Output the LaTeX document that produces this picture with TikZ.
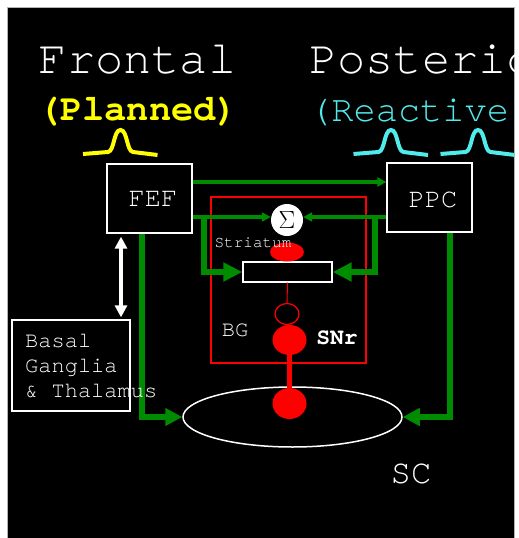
\documentclass[tikz,border=0pt]{standalone}
\usepackage{fontspec}
\newfontfamily\cour{TeX Gyre Cursor}
\usetikzlibrary{arrows.meta,shapes.geometric}
\definecolor{gr}{RGB}{0,140,0}
\definecolor{cy}{RGB}{80,235,235}
\definecolor{yl}{RGB}{255,255,0}
\begin{document}
\begin{tikzpicture}[x=1pt,y=-1pt,
  box/.style={draw=white,line width=1.3pt,fill=black,inner sep=0pt},
  txt/.style={text=white,inner sep=0pt},
  gthin/.style={draw=gr,line width=4pt,-{Triangle[length=9pt,width=9pt]}},
  gthick/.style={draw=gr,line width=6pt,-{Triangle[length=19pt,width=18pt]}},
  gsc/.style={draw=gr,line width=6pt,-{Triangle[length=17pt,width=17pt]}},
  bump/.pic={\draw (-37.5,1) -- (-12.5,-1) .. controls (-6,-2) and (-7,-23) .. (0,-23) .. controls (7,-23) and (6,-2) .. (12.5,-1) -- (37,2);}
]
\useasboundingbox (0,0) rectangle (519,538);
\fill[white] (0,0) rectangle (519,538);
\fill[black] (7,7) rectangle (514,538);
\draw[gray!60, line width=0.8pt] (7,538) -- (7,7) -- (514,7) -- (514,538);
\begin{scope}
\clip (7,7) rectangle (514,538);
% titles
\node[txt,anchor=base,font={\cour\fontsize{47}{47}\selectfont}] (frontal) at (137.5,73) {Frontal};
\node[txt,anchor=base west,font={\cour\fontsize{47}{47}\selectfont}] (posterior) at (309,73) {Posterior};
\node[anchor=base,text=yl,inner sep=0pt,font={\cour\bfseries\fontsize{37}{37}\selectfont}] (planned) at (138,120) {(Planned)};
\node[anchor=base west,text=cy,inner sep=0pt,font={\cour\fontsize{37}{37}\selectfont}] (reactive) at (309,121) {(Reactive)};
% bumps
\pic[color=yl, line width=4pt] at (120.5,153) {bump};
\pic[color=cy, line width=4pt] at (391,153) {bump};
\pic[color=cy, line width=4pt] at (478,153) {bump};
% helper coordinates
\coordinate (rowA) at (0,182);
\coordinate (rowB) at (0,217);
\coordinate (rowBt) at (0,215);
\coordinate (rowC) at (0,272);
\coordinate (rowD) at (0,417);
\coordinate (colL) at (204,0);
\coordinate (colR) at (374.5,0);
\coordinate (colF) at (142,0);
\coordinate (colP) at (449.5,0);
\coordinate (colW) at (121,0);
% BG region
\node[draw=red,line width=1.2pt,minimum width=155,minimum height=166,inner sep=0pt] (bgbox) at (288.5,280) {};
% boxes
\node[box,minimum width=85,minimum height=69] (fef) at (149.5,198.5) {};
\node[box,minimum width=85,minimum height=69] (ppc) at (429.5,197.5) {};
\node[box,minimum width=118,minimum height=91] (bgt) at (71,365.5) {};
\node[draw=white,line width=1.3pt,fill=black,minimum width=89,minimum height=20,inner sep=0pt] (stri) at (287.5,272) {};
\node[ellipse,draw=white,line width=1.5pt,minimum width=219,minimum height=60,inner sep=0pt] (sc) at (292.5,417) {};
\node[circle,fill=white,minimum size=32,inner sep=0pt,font={\fontsize{27}{27}\selectfont}] (sum) at (287,220) {$\Sigma$};
% green connectors
\draw[gthin] (fef.east |- rowA) -- (ppc.west |- rowA);
\draw[gthin] (fef.east |- rowB) -- (sum.west |- rowB);
\draw[gthin] (ppc.west |- rowB) -- (sum.east |- rowB);
\draw[gthick] (colL |- rowBt) -- (colL |- rowC) -- (stri.west);
\draw[gthick] (colR |- rowBt) -- (colR |- rowC) -- (stri.east);
\draw[gsc] (colF |- fef.south) -- (colF |- rowD) -- (sc.west);
\draw[gsc] (colP |- ppc.south) -- (colP |- rowD) -- (sc.east);
% white double arrow
\draw[white,line width=3.5pt,{Triangle[length=12pt,width=12pt]}-{Triangle[length=12pt,width=12pt]},shorten <=3pt,shorten >=2pt] (colW |- fef.south) -- (colW |- bgt.north);
% box labels
\node[txt,font={\cour\fontsize{27}{27}\selectfont}] (feflabel) at (153,199) {FEF};
\node[txt,font={\cour\fontsize{27}{27}\selectfont}] (ppclabel) at (433,200) {PPC};
\node[txt,anchor=base west,font={\cour\fontsize{22}{22}\selectfont}] (basal1) at (25,347) {Basal};
\node[txt,anchor=base west,font={\cour\fontsize{22}{22}\selectfont}] (basal2) at (25,372) {Ganglia};
\node[txt,anchor=base west,font={\cour\fontsize{22}{22}\selectfont}] (basal3) at (25,397) {\&~Thalamus};
% red elements
\node[ellipse,fill=red,minimum width=34,minimum height=19,inner sep=0pt] (strired) at (287,252) {};
\node[txt,font={\cour\fontsize{16}{16}\selectfont}] (stritxt) at (253,243) {Striatum};
\node[ellipse,draw=red,line width=1.2pt,minimum width=24,minimum height=21,inner sep=0pt] (open) at (287,314) {};
\draw[red,line width=1pt] (stri.south) -- (open.north);
\node[ellipse,fill=red,minimum width=34,minimum height=30,inner sep=0pt] (snr) at (289.5,340) {};
\node[ellipse,fill=red,minimum width=34,minimum height=31,inner sep=0pt] (scdot) at (289.5,403.5) {};
\draw[red,line width=4.5pt] (snr.center) -- (scdot.center);
% labels
\node[txt,font={\cour\fontsize{22}{22}\selectfont}] (bglabel) at (235,330) {BG};
\node[txt,font={\cour\bfseries\fontsize{23}{23}\selectfont}] (snrlabel) at (337,338) {SNr};
\node[txt,font={\cour\fontsize{34}{34}\selectfont}] (sclabel) at (411,474) {SC};
\end{scope}
\end{tikzpicture}
\end{document}
